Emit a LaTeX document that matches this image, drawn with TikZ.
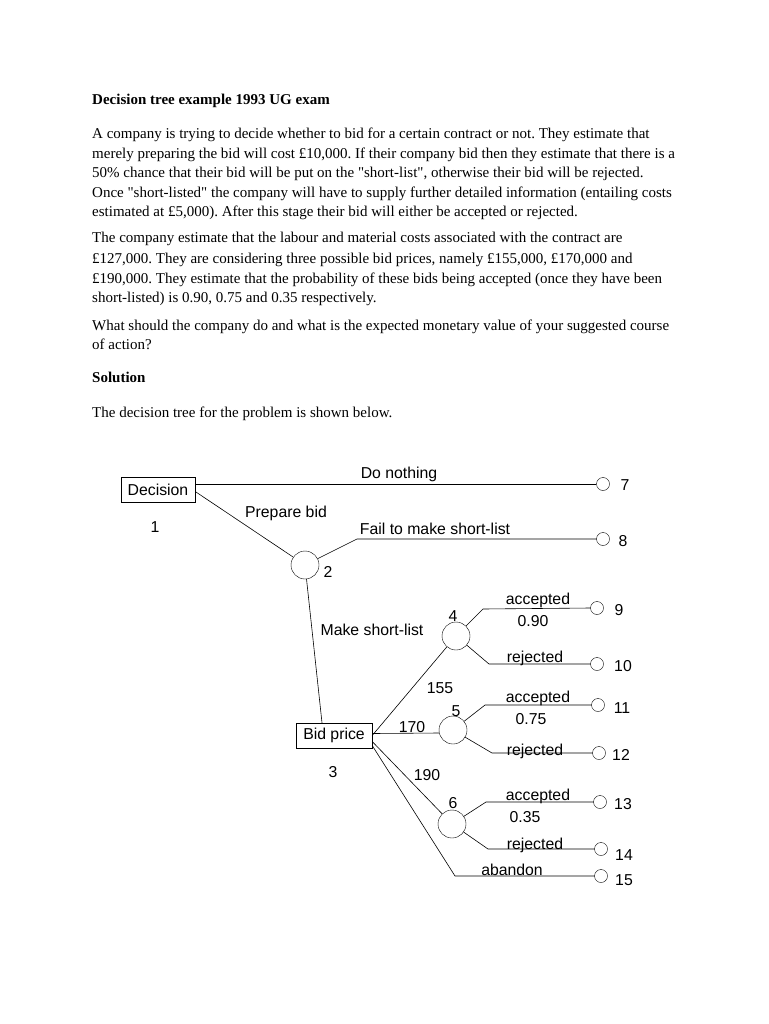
\documentclass[tikz,border=0pt]{standalone}
\usepackage{fontspec}
\setmainfont{Liberation Serif}
\newfontfamily\treefont{Liberation Sans}
\newfontfamily\quotefont{Liberation Serif}
\usetikzlibrary{positioning}
\frenchspacing
\newcommand{\dq}{{\quotefont"}}

\tikzset{
    para/.style={anchor=base west, inner sep=0pt, font=\fontsize{15}{18}\selectfont},
    lbl/.style={inner sep=0pt, font=\treefont\fontsize{15.8}{18}\selectfont},
    dbox/.style={draw, rectangle, minimum height=25pt, inner sep=2pt, font=\treefont\fontsize{15.8}{18}\selectfont},
    chance/.style={draw, circle, minimum size=28pt, inner sep=0pt},
    leaf/.style={draw, circle, minimum size=13pt, inner sep=0pt},
    branch/.style={line width=0.6pt},
}

\begin{document}
\begin{tikzpicture}[x=1pt, y=-1pt]
    \useasboundingbox[fill=white] (0,0) rectangle (768,1024);

    % Exam question text
    \node[para, font=\bfseries\fontsize{15}{18}\selectfont] (title) at (92,105) {Decision tree example 1993 UG exam};
    \foreach \y/\t in {
            139/{A company is trying to decide whether to bid for a certain contract or not. They estimate that},
            159/{merely preparing the bid will cost £10,000. If their company bid then they estimate that there is a},
            178/{50\% chance that their bid will be put on the \dq short-list\dq, otherwise their bid will be rejected.},
            198/{Once \dq short-listed\dq\ the company will have to supply further detailed information (entailing costs},
            217/{estimated at £5,000). After this stage their bid will either be accepted or rejected.},
            243/{The company estimate that the labour and material costs associated with the contract are},
            263/{£127,000. They are considering three possible bid prices, namely £155,000, £170,000 and},
            283/{£190,000. They estimate that the probability of these bids being accepted (once they have been},
            302/{short-listed) is 0.90, 0.75 and 0.35 respectively.},
            330/{What should the company do and what is the expected monetary value of your suggested course},
            349/{of action?},
            417/{The decision tree for the problem is shown below.}} {
            \node[para] at (92,\y) {\t};
        }
    \node[para, font=\bfseries\fontsize{15}{18}\selectfont] (sol) at (92,382) {Solution};

    % Decision and chance nodes
    \node[dbox, minimum width=74pt] (dec) at (158,489.5) {Decision};
    \node[dbox, minimum width=76pt] (bid) at (334,735.5) {Bid price};
    \node[chance] (c2) at (305,565) {};
    \node[chance] (c4) at (456,636) {};
    \node[chance] (c5) at (453,730) {};
    \node[chance] (c6) at (452,824) {};

    % End points
    \foreach \n/\x/\y in {7/603/484, 8/603/539, 9/597/608, 10/597/664, 11/598/705,
            12/599/753, 13/600/802, 14/601/849, 15/601/876} {
            \node[leaf] (t\n) at (\x,\y) {};
        }
    \foreach \n/\x/\y in {7/625/485, 8/623/541, 9/619/610, 10/623/666, 11/622/708,
            12/621/755, 13/623/804, 14/624/855, 15/624/880} {
            \node[lbl] at (\x,\y) {\n};
        }

    % Bends
    \coordinate (f8) at (357,539);
    \coordinate (a9) at (483,609);
    \coordinate (r10) at (489,664);
    \coordinate (a11) at (485,705);
    \coordinate (r12) at (492,753);
    \coordinate (a13) at (486,802);
    \coordinate (r14) at (488,849);
    \coordinate (ab15) at (455,876);

    % Branches
    \draw[branch] (dec.east |- t7.west) -- (t7.west);
    \draw[branch] ([yshift=-2pt]dec.east) -- (c2);
    \draw[branch] (c2) -- (f8) -- (t8.west);
    \draw[branch] (c2) -- ([xshift=-12pt]bid.north);
    \draw[branch] (bid.east) -- (c4);
    \draw[branch] ([yshift=2pt]bid.east) -- ([yshift=-3pt]c5.west);
    \draw[branch] ([yshift=-6pt]bid.east) -- (c6);
    \draw[branch] ([yshift=-10pt]bid.east) -- (ab15) -- (t15.west);
    \draw[branch] (c4) -- (a9) -- (t9.west);
    \draw[branch] (c4) -- (r10) -- (t10.west);
    \draw[branch] (c5) -- (a11) -- (t11.west);
    \draw[branch] (c5) -- (r12) -- (t12.west);
    \draw[branch] (c6) -- (a13) -- (t13.west);
    \draw[branch] (c6) -- (r14) -- (t14.west);

    % Branch labels
    \node[lbl] at (399,474) {Do nothing};
    \node[lbl] at (155,527) {1};
    \node[lbl] at (286,513) {Prepare bid};
    \node[lbl] at (328,572) {2};
    \node[lbl] at (435,529) {Fail to make short-list};
    \node[lbl] at (372,630) {Make short-list};
    \node[lbl] at (333,772) {3};
    \node[lbl] at (453,616) {4};
    \node[lbl] at (456,711) {5};
    \node[lbl] at (453,803) {6};
    \node[lbl] at (440,688) {155};
    \node[lbl] at (412,727) {170};
    \node[lbl] at (427,775) {190};
    \foreach \y/\x/\p in {600/533/0.90, 698/531/0.75, 796/525/0.35} {
            \node[lbl] at (538,\y) {accepted};
            \node[lbl] at (\x,\y+21) {\p};
        }
    \foreach \y in {658, 751, 845} {
            \node[lbl] at (535,\y) {rejected};
        }
    \node[lbl] at (512,870) {abandon};
\end{tikzpicture}
\end{document}
